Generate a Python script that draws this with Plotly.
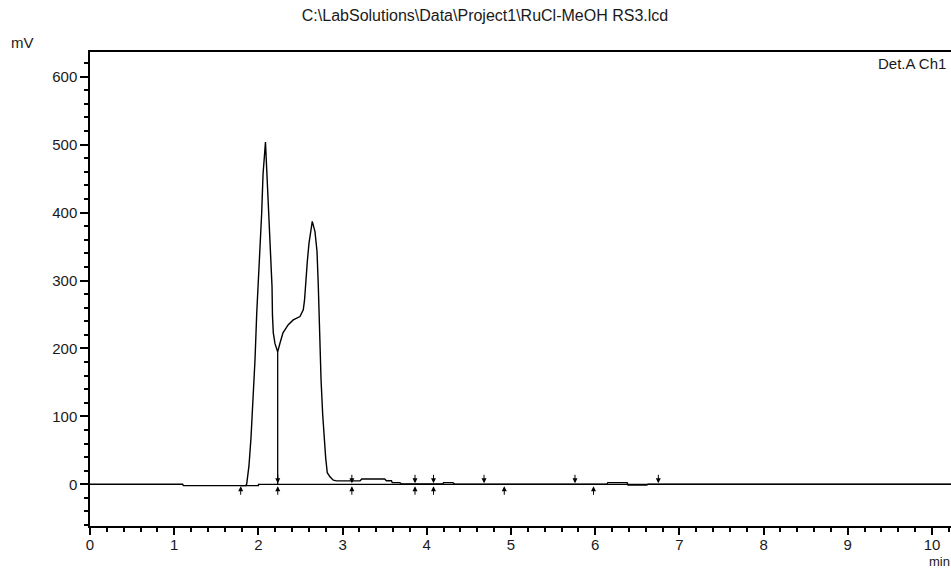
import plotly.graph_objects as go

# ---- data ----
sig_t = [0.0, 1.10, 1.11, 1.85, 1.861, 1.888, 1.912, 1.932, 1.960, 1.980, 1.995, 2.013, 2.039,
         2.055, 2.072, 2.084, 2.099, 2.122, 2.143, 2.162, 2.167, 2.177, 2.197, 2.229, 2.257,
         2.292, 2.355, 2.414, 2.494, 2.533, 2.548, 2.562, 2.581, 2.601, 2.621, 2.640, 2.672,
         2.696, 2.711, 2.723, 2.732, 2.744, 2.764, 2.779, 2.799, 2.818, 2.850, 2.890, 2.930,
         3.207, 3.227, 3.50, 3.52, 3.58, 3.59, 3.68, 3.70, 4.19, 4.20, 4.31, 4.33, 6.14, 6.15,
         6.38, 6.39, 6.61, 6.63, 10.3]
sig_v = [0, 0, -2, -2, 0.4, 27, 68, 112, 184, 251, 286, 332, 399,
         456, 492, 504, 463, 399, 345, 291, 249, 223, 207, 195, 208,
         223, 235, 242, 247, 257, 271, 298, 328, 355, 375, 387, 372,
         343, 294, 239, 205, 154, 102, 67, 39, 17, 11, 6, 5,
         5, 7.8, 7.8, 5.3, 5.3, 2.4, 2.4, 0.5, 0.5, 2.4, 2.4, 0.3, 0.3, 2.4,
         2.4, -1, -1, 0, 0]

base_t = [1.79, 2.0, 2.001, 10.3]
base_v = [-2, -2, 0, 0]

drop_t = [2.229]
drop_v = [195]

start_marks = [1.79, 2.23, 3.11, 3.86, 4.08, 4.92, 5.98]
end_marks = [2.23, 3.11, 3.86, 4.08, 4.68, 5.76, 6.75]

title_text = "C:\\LabSolutions\\Data\\Project1\\RuCl-MeOH RS3.lcd"
x_range = [0, 10.226]
y_range = [-61.4, 636.4]

FONT = "Liberation Sans, Arial, sans-serif"
TXT = "#1a1a1a"
FS = 15

fig = go.Figure()
fig.add_trace(go.Scatter(x=base_t, y=base_v, mode="lines",
                         line=dict(color="black", width=1.3), hoverinfo="skip"))
fig.add_trace(go.Scatter(x=sig_t, y=sig_v, mode="lines",
                         line=dict(color="black", width=1.4), hoverinfo="skip"))
for t, v in zip(drop_t, drop_v):
    fig.add_trace(go.Scatter(x=[t, t], y=[0, v], mode="lines",
                             line=dict(color="black", width=1.3), hoverinfo="skip"))

annotations = []
for t in start_marks:
    annotations.append(dict(x=t, y=0, xref="x", yref="y", text="", showarrow=True,
                            ax=0, ay=12, arrowhead=2, arrowsize=1.0, arrowwidth=1,
                            arrowcolor="black", standoff=2))
for t in end_marks:
    annotations.append(dict(x=t, y=0, xref="x", yref="y", text="", showarrow=True,
                            ax=0, ay=-11, arrowhead=2, arrowsize=1.0, arrowwidth=1,
                            arrowcolor="black", standoff=1))

annotations.append(dict(text="mV", xref="paper", yref="paper", x=-0.078, y=1.021,
                        xanchor="center", yanchor="middle", showarrow=False,
                        font=dict(family=FONT, size=FS, color=TXT)))
annotations.append(dict(text="min", xref="paper", yref="paper", x=1.0, y=-0.058,
                        xanchor="right", yanchor="top", showarrow=False, borderpad=0,
                        font=dict(family=FONT, size=13, color=TXT)))
annotations.append(dict(text="Det.A Ch1", xref="paper", yref="paper", x=0.997, y=0.998,
                        xanchor="right", yanchor="top", showarrow=False,
                        font=dict(family=FONT, size=FS, color=TXT)))

fig.update_layout(
    width=951, height=570,
    margin=dict(l=90, r=0, t=52, b=44),
    paper_bgcolor="white", plot_bgcolor="white",
    showlegend=False,
    title=dict(text=title_text, x=485 / 951, xref="container", xanchor="center",
               y=1 - 15 / 570, yref="container", yanchor="middle",
               font=dict(family=FONT, size=16, color=TXT)),
    annotations=annotations,
    xaxis=dict(range=x_range, showgrid=False, zeroline=False,
               showline=True, linecolor="black", linewidth=2, mirror=True,
               ticks="outside", ticklen=7, tickwidth=1.5, tickcolor="black",
               dtick=1, tick0=0, ticklabelstandoff=-3,
               minor=dict(ticks="outside", ticklen=4, dtick=0.2, tick0=0,
                          tickcolor="black", tickwidth=1.5),
               tickfont=dict(family=FONT, size=FS, color=TXT)),
    yaxis=dict(range=y_range, showgrid=False, zeroline=False,
               showline=True, linecolor="black", linewidth=1.5,
               ticks="outside", ticklen=8, tickwidth=1.5, tickcolor="black",
               dtick=100, tick0=0,
               minor=dict(ticks="outside", ticklen=4, dtick=20, tick0=0,
                          tickcolor="black", tickwidth=1.5),
               tickfont=dict(family=FONT, size=FS, color=TXT)),
)

fig.write_html("out.html")
